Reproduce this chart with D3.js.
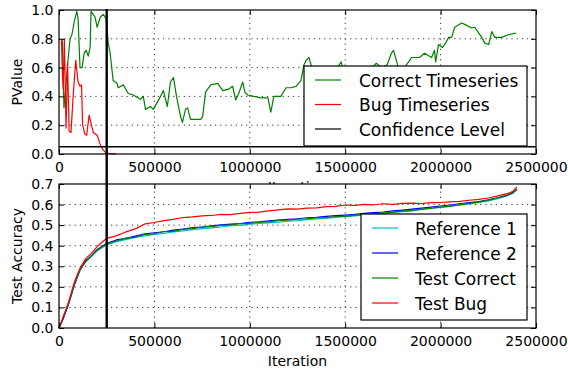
<!DOCTYPE html>
<html>
<head>
<meta charset="utf-8">
<script src="https://cdn.jsdelivr.net/npm/d3@7"></script>
<style>
    body { margin: 0; background: #fff; }
    text { font-family: "DejaVu Sans", sans-serif; }
</style>
</head>
<body>
<svg id="chart" width="568" height="373"></svg>
<script>
// --- p-value time series (iteration, pvalue) ---
const correctTs = [
    [17000, 0.80], [26000, 0.32], [45000, 0.62], [58000, 0.80], [68000, 0.83], [80000, 0.92], [93000, 0.99],
    [100000, 0.94], [110000, 0.60], [121000, 0.60], [132000, 0.70], [142000, 0.72], [153000, 0.68], [163000, 0.74],
    [168000, 0.99], [189000, 0.95], [200000, 0.88], [216000, 0.95], [232000, 0.97], [247000, 0.94], [258000, 0.77],
    [268000, 0.70], [284000, 0.51], [305000, 0.49], [310000, 0.46], [337000, 0.48], [363000, 0.42], [389000, 0.41],
    [426000, 0.38], [442000, 0.40], [453000, 0.31], [479000, 0.33], [495000, 0.31], [532000, 0.40], [547000, 0.44],
    [568000, 0.33], [584000, 0.50], [600000, 0.53], [616000, 0.40], [637000, 0.26], [647000, 0.22], [663000, 0.31],
    [674000, 0.32], [689000, 0.24], [742000, 0.24], [753000, 0.26], [768000, 0.43], [795000, 0.48], [832000, 0.49],
    [858000, 0.44], [889000, 0.45], [910000, 0.47], [926000, 0.375], [942000, 0.42], [963000, 0.50], [974000, 0.43],
    [989000, 0.41], [1021000, 0.40], [1058000, 0.39], [1095000, 0.39], [1110000, 0.29], [1126000, 0.40],
    [1163000, 0.40], [1190000, 0.46], [1216000, 0.46], [1242000, 0.47], [1268000, 0.51], [1284000, 0.62],
    [1295000, 0.65], [1310000, 0.67], [1325000, 0.60], [1350000, 0.56], [1400000, 0.57], [1450000, 0.58],
    [1479000, 0.64], [1490000, 0.58], [1550000, 0.57], [1600000, 0.60], [1640000, 0.60], [1663000, 0.63],
    [1690000, 0.60], [1720000, 0.62], [1742000, 0.70], [1753000, 0.72], [1768000, 0.65], [1784000, 0.57],
    [1800000, 0.58], [1832000, 0.64], [1847000, 0.67], [1890000, 0.67], [1916000, 0.70], [1953000, 0.67],
    [1968000, 0.72], [1974000, 0.64], [1989000, 0.76], [2010000, 0.74], [2026000, 0.77], [2042000, 0.81],
    [2058000, 0.81], [2074000, 0.88], [2110000, 0.91], [2126000, 0.90], [2163000, 0.875], [2179000, 0.88],
    [2200000, 0.84], [2216000, 0.81], [2232000, 0.77], [2252000, 0.76], [2268000, 0.85], [2284000, 0.81],
    [2321000, 0.81], [2358000, 0.83], [2395000, 0.84]
];
const bugTs = [
    [13000, 0.79], [18000, 0.55], [22000, 0.45], [28000, 0.80], [37000, 0.18], [45000, 0.63], [53000, 0.16],
    [63000, 0.15], [74000, 0.40], [88000, 0.65], [100000, 0.50], [110000, 0.47], [118000, 0.48], [124000, 0.20],
    [135000, 0.14], [145000, 0.13], [158000, 0.27], [170000, 0.20], [180000, 0.15], [200000, 0.13],
    [215000, 0.07], [230000, 0.03], [245000, 0.01], [260000, 0.005], [300000, 0.0]
];
const confidenceLevel = 0.05;
const markerIter = 250000;

// --- test accuracy ---
const accIter = [0, 20000, 50000, 80000, 110000, 140000, 170000, 200000,
    250000, 300000, 350000, 400000, 450000, 500000, 550000, 600000, 650000, 700000,
    750000, 800000, 850000, 900000, 950000, 1000000, 1050000, 1100000, 1150000, 1200000,
    1250000, 1300000, 1350000, 1400000, 1450000, 1500000, 1550000, 1600000, 1650000, 1700000,
    1750000, 1800000, 1850000, 1900000, 1950000, 2000000, 2050000, 2100000, 2150000, 2200000,
    2250000, 2300000, 2350000, 2380000, 2400000];
const reference1 = [0.000, 0.042, 0.120, 0.210, 0.278, 0.330, 0.348, 0.375, 0.404, 0.420,
    0.430, 0.440, 0.448, 0.455, 0.460, 0.467, 0.472, 0.478, 0.483, 0.487,
    0.491, 0.497, 0.499, 0.505, 0.508, 0.511, 0.515, 0.519, 0.522, 0.527,
    0.530, 0.534, 0.538, 0.541, 0.545, 0.549, 0.553, 0.557, 0.562, 0.566,
    0.571, 0.576, 0.581, 0.586, 0.592, 0.597, 0.603, 0.610, 0.618, 0.629,
    0.643, 0.657, 0.673];
const reference2 = [0.000, 0.040, 0.115, 0.208, 0.285, 0.326, 0.350, 0.382, 0.412, 0.428,
    0.436, 0.447, 0.458, 0.463, 0.468, 0.476, 0.481, 0.488, 0.490, 0.497,
    0.501, 0.505, 0.508, 0.514, 0.516, 0.521, 0.524, 0.528, 0.531, 0.536,
    0.538, 0.543, 0.546, 0.549, 0.552, 0.557, 0.561, 0.564, 0.569, 0.573,
    0.578, 0.583, 0.588, 0.593, 0.598, 0.604, 0.609, 0.615, 0.623, 0.633,
    0.645, 0.658, 0.674];
const testCorrect = [0.000, 0.045, 0.118, 0.212, 0.282, 0.322, 0.352, 0.378, 0.409, 0.423,
    0.437, 0.441, 0.455, 0.458, 0.469, 0.470, 0.480, 0.483, 0.491, 0.493,
    0.499, 0.501, 0.507, 0.509, 0.515, 0.516, 0.523, 0.524, 0.529, 0.531,
    0.536, 0.537, 0.542, 0.543, 0.549, 0.551, 0.555, 0.559, 0.563, 0.568,
    0.571, 0.578, 0.582, 0.588, 0.591, 0.600, 0.606, 0.612, 0.622, 0.633,
    0.647, 0.660, 0.676];
const testBug = [0.000, 0.050, 0.125, 0.222, 0.290, 0.337, 0.363, 0.396, 0.436, 0.448,
    0.467, 0.482, 0.506, 0.513, 0.522, 0.528, 0.537, 0.540, 0.545, 0.547,
    0.552, 0.551, 0.557, 0.562, 0.563, 0.569, 0.574, 0.579, 0.578, 0.583,
    0.584, 0.590, 0.591, 0.598, 0.596, 0.601, 0.599, 0.604, 0.601, 0.606,
    0.607, 0.605, 0.609, 0.610, 0.613, 0.616, 0.621, 0.625, 0.632, 0.642,
    0.653, 0.665, 0.686];

const xTicks = [0, 500000, 1000000, 1500000, 2000000, 2500000];
const pTicks = [0.0, 0.2, 0.4, 0.6, 0.8, 1.0];
const accTicks = [0.0, 0.1, 0.2, 0.3, 0.4, 0.5, 0.6, 0.7];

const topSeries = [
    { name: "Correct Timeseries", color: "#008000", data: correctTs },
    { name: "Bug Timeseries", color: "#ff0000", data: bugTs }
];
const bottomSeries = [
    { name: "Reference 1", color: "#00bfbf", values: reference1 },
    { name: "Reference 2", color: "#0000ff", values: reference2 },
    { name: "Test Correct", color: "#008000", values: testCorrect },
    { name: "Test Bug", color: "#ff0000", values: testBug }
];

const svg = d3.select("#chart");
svg.append("rect").attr("width", 568).attr("height", 373).attr("fill", "#fff");

const left = 59, right = 536;
const x = d3.scaleLinear().domain([0, 2500000]).range([left, right]);
const yTop = d3.scaleLinear().domain([0, 1]).range([154, 10]);
const yBot = d3.scaleLinear().domain([0, 0.7]).range([328, 184]);

function drawPanel(y, yTicks, yFmt, ylabel) {
    const [y0, y1] = y.range();
    const g = svg.append("g");

    g.append("rect")
        .attr("x", left).attr("y", y1)
        .attr("width", right - left).attr("height", y0 - y1)
        .attr("fill", "#fff");

    // dotted grid
    g.selectAll(".vgrid").data(xTicks.slice(1, -1)).enter().append("line")
        .attr("x1", d => x(d)).attr("x2", d => x(d))
        .attr("y1", y0).attr("y2", y1)
        .attr("stroke", "#000").attr("stroke-width", 0.8)
        .attr("stroke-dasharray", "1.2,4");
    g.selectAll(".hgrid").data(yTicks.slice(1, -1)).enter().append("line")
        .attr("x1", left).attr("x2", right)
        .attr("y1", d => y(d)).attr("y2", d => y(d))
        .attr("stroke", "#000").attr("stroke-width", 0.8)
        .attr("stroke-dasharray", "1.2,4");

    const axes = [
        d3.axisBottom(x).tickValues(xTicks).tickFormat(d3.format("d")).tickSize(-5).tickPadding(8.5),
        d3.axisTop(x).tickValues(xTicks).tickFormat("").tickSize(-5),
        d3.axisLeft(y).tickValues(yTicks).tickFormat(yFmt).tickSize(-5).tickPadding(5.5),
        d3.axisRight(y).tickValues(yTicks).tickFormat("").tickSize(-5)
    ];
    const shifts = [`translate(0,${y0})`, `translate(0,${y1})`, `translate(${left},0)`, `translate(${right},0)`];
    const axisGroups = axes.map((ax, i) => {
        const a = svg.append("g").attr("transform", shifts[i]).call(ax);
        a.select(".domain").remove();
        a.selectAll("line").attr("stroke", "#000");
        a.selectAll("text").attr("fill", "#000").style("font-size", "14px")
            .style("font-family", '"DejaVu Sans", sans-serif');
        return a;
    });

    svg.append("text")
        .attr("transform", `translate(22,${(y0 + y1) / 2}) rotate(-90)`)
        .attr("text-anchor", "middle")
        .style("font-size", "14px")
        .text(ylabel);

    return { g, y0, y1, axisGroups };
}

function drawFrame(p) {
    svg.append("rect")
        .attr("x", left).attr("y", p.y1)
        .attr("width", right - left).attr("height", p.y0 - p.y1)
        .attr("fill", "none").attr("stroke", "#000").attr("stroke-width", 1.2);
}

function drawLegend(items, box, rowGap) {
    const lg = svg.append("g");
    lg.append("rect")
        .attr("x", box.x).attr("y", box.y).attr("width", box.w).attr("height", box.h)
        .attr("fill", "#fff").attr("stroke", "#000").attr("stroke-width", 1.2);
    items.forEach((it, i) => {
        const cy = box.y + box.first + i * rowGap;
        lg.append("line")
            .attr("x1", box.x + 11).attr("x2", box.x + 37)
            .attr("y1", cy).attr("y2", cy)
            .attr("stroke", it.color).attr("stroke-width", 1.2);
        lg.append("text")
            .attr("x", box.x + box.textDx).attr("y", cy + 6.5)
            .style("font-size", "17px")
            .text(it.name);
    });
}

// ---------- top panel: p-values ----------
const topPanel = drawPanel(yTop, pTicks, d3.format(".1f"), "PValue");
const lineTop = d3.line().x(d => x(d[0])).y(d => yTop(d[1]));
topSeries.forEach(s => {
    topPanel.g.append("path").datum(s.data)
        .attr("d", lineTop)
        .attr("fill", "none").attr("stroke", s.color).attr("stroke-width", 1.2)
        .attr("stroke-linejoin", "round");
});
topPanel.g.append("line")
    .attr("x1", left).attr("x2", right)
    .attr("y1", yTop(confidenceLevel)).attr("y2", yTop(confidenceLevel))
    .attr("stroke", "#000").attr("stroke-width", 1.6);
drawFrame(topPanel);
drawLegend(topSeries.concat([{ name: "Confidence Level", color: "#000" }]),
    { x: 304, y: 66, w: 223, h: 80, first: 14, textDx: 55 }, 24.5);

// x label of the top panel, mostly hidden by the lower axes
svg.append("text")
    .attr("x", (left + right) / 2).attr("y", topPanel.y0 + 38)
    .attr("text-anchor", "middle").style("font-size", "14px")
    .text("Iteration");

// ---------- bottom panel: test accuracy ----------
const botPanel = drawPanel(yBot, accTicks, d3.format(".1f"), "Test Accuracy");
const lineBot = d3.line().x((d, i) => x(accIter[i])).y(d => yBot(d));
bottomSeries.forEach(s => {
    botPanel.g.append("path").datum(s.values)
        .attr("d", lineBot)
        .attr("fill", "none").attr("stroke", s.color).attr("stroke-width", 1.2)
        .attr("stroke-linejoin", "round");
});
drawFrame(botPanel);
drawLegend(bottomSeries, { x: 361, y: 214, w: 166, h: 106, first: 14, textDx: 54 }, 25);
// keep tick marks above the panel backgrounds
botPanel.axisGroups.forEach(a => a.raise());
topPanel.axisGroups.forEach(a => a.raise());

svg.append("text")
    .attr("x", (left + right) / 2).attr("y", botPanel.y0 + 38)
    .attr("text-anchor", "middle").style("font-size", "14px")
    .text("Iteration");

// vertical marker spanning both panels
svg.append("line")
    .attr("x1", x(markerIter)).attr("x2", x(markerIter))
    .attr("y1", yTop(1) - 1).attr("y2", yBot(0))
    .attr("stroke", "#000").attr("stroke-width", 2.4);
</script>
</body>
</html>
